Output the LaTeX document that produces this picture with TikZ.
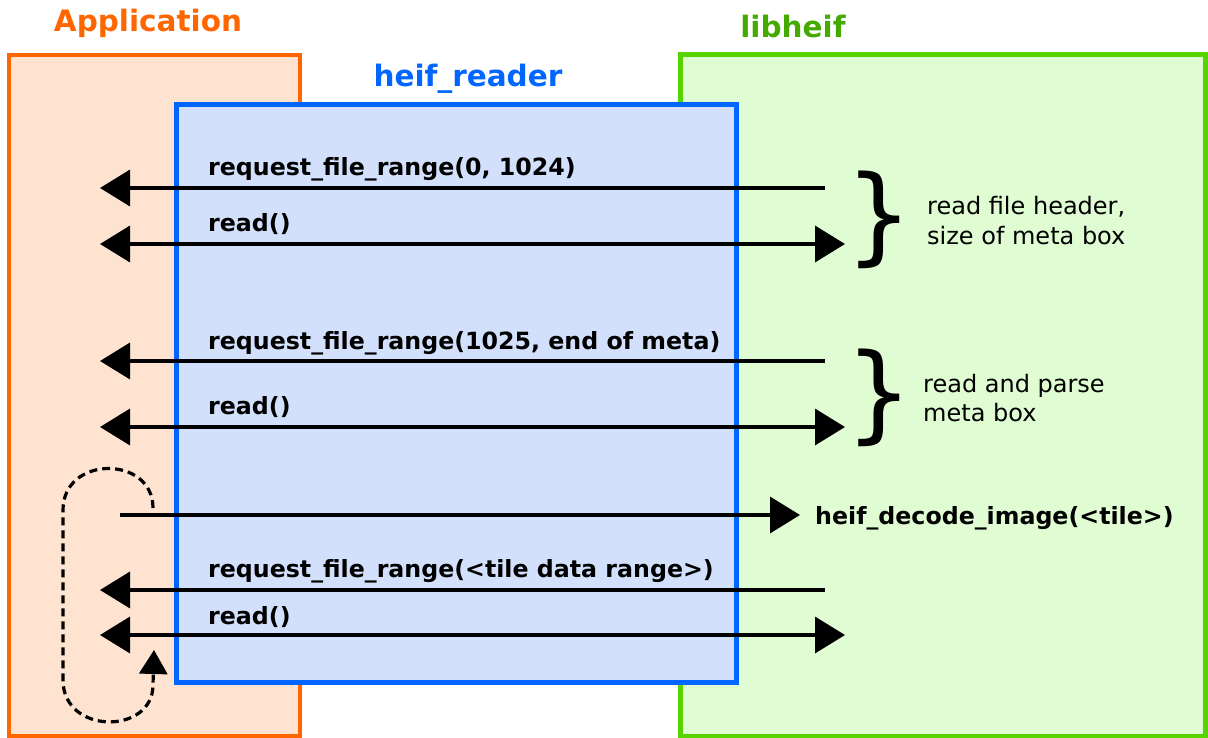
\documentclass[tikz,border=0pt]{standalone}
\usepackage{fontspec}
\setmainfont{DejaVu Sans}
\usetikzlibrary{arrows.meta}
\definecolor{appline}{HTML}{FF6600}
\definecolor{appfill}{HTML}{FDE3D0}
\definecolor{rdline}{HTML}{0066FF}
\definecolor{rdfill}{HTML}{D2E0FC}
\definecolor{libline}{HTML}{55D400}
\definecolor{libfill}{HTML}{E0FCD2}
\definecolor{libtitle}{HTML}{44AA00}
\tikzset{
  layer/.style={line width=5pt},
  title/.style={font=\fontsize{29.5}{32}\selectfont\bfseries, inner sep=0pt},
  call/.style={font=\fontsize{23.7}{26}\selectfont\bfseries, anchor=base west, inner sep=0pt},
  note/.style={font=\fontsize{24}{30}\selectfont, anchor=base west, inner sep=0pt},
  msg/.style={line width=3.6pt},
  bigtip/.style={-{Triangle[length=30pt,width=36pt]}},
  bothtips/.style={{Triangle[length=30pt,width=36pt]}-{Triangle[length=30pt,width=36pt]}},
  loop/.style={line width=3.2pt, dash pattern=on 8pt off 5pt,
    -{Triangle[length=24pt,width=28pt]}},
  brace/.style={font=\fontsize{106}{106}\selectfont, inner sep=0pt}
}
\begin{document}
\begin{tikzpicture}[x=1pt,y=-1pt]
\useasboundingbox (0,0) rectangle (1208,738);

% the three layers
\draw[layer, line width=4pt, draw=appline, fill=appfill] (9,55) rectangle (300,736);
\draw[layer, draw=libline, fill=libfill] (680,55) rectangle (1205,736);
\draw[layer, draw=rdline, fill=rdfill] (176,105) rectangle (736,682);

\node[title, text=appline, anchor=base] (tapp) at (148,32) {Application};
\node[title, text=rdline, anchor=base] (trd) at (468,87) {heif\_reader};
\node[title, text=libtitle, anchor=base] (tlib) at (793,38) {libheif};

% end points of the calls
\coordinate (a1) at (100,188); \coordinate (b1) at (825,188);
\coordinate (a2) at (100,244); \coordinate (b2) at (845,244);
\coordinate (a3) at (100,361); \coordinate (b3) at (825,361);
\coordinate (a4) at (100,427); \coordinate (b4) at (845,427);
\coordinate (a5) at (120,515); \coordinate (b5) at (800,515);
\coordinate (a6) at (100,590); \coordinate (b6) at (825,590);
\coordinate (a7) at (100,635); \coordinate (b7) at (845,635);

\draw[msg, bigtip] (b1) -- (a1);
\draw[msg, bothtips] (a2) -- (b2);
\draw[msg, bigtip] (b3) -- (a3);
\draw[msg, bothtips] (a4) -- (b4);
\draw[msg, bigtip] (a5) -- (b5);
\draw[msg, bigtip] (b6) -- (a6);
\draw[msg, bothtips] (a7) -- (b7);

\node[call] (l1) at (208,176) {request\_file\_range(0, 1024)};
\node[call] (l2) at (208,232) {read()};
\node[call] (l3) at (208,349) {request\_file\_range(1025, end of meta)};
\node[call] (l4) at (208,414) {read()};
\node[call] (l5) at (815,524) {heif\_decode\_image(<tile>)};
\node[call] (l6) at (208,577) {request\_file\_range(<tile data range>)};
\node[call] (l7) at (208,624) {read()};

% braces grouping the first two exchanges
\node[brace] (br1) at (879,220) {\}};
\node[brace] (br2) at (879,398) {\}};
\node[note] (n1) at (927,215) {read file header,};
\node[note] (n1b) at (927,245) {size of meta box};
\node[note] (n2) at (923,392) {read and parse};
\node[note] (n2b) at (923,421) {meta box};

% repeated decoding loop
\coordinate (lp) at (153,508);
\coordinate (lq) at (154,650);
\draw[loop] (lp) .. controls (153,455) and (63,455) .. (63,510)
  -- (63,680) .. controls (63,735) and (153,735) .. (153,685) -- (lq);
\end{tikzpicture}
\end{document}
